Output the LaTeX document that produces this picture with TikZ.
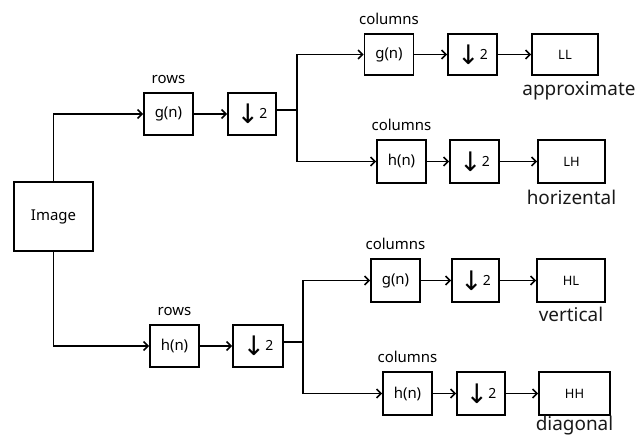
\documentclass[tikz,border=0pt]{standalone}
\usepackage{fontspec}
\setmainfont{Noto Sans}
\newfontfamily\arrowfont{DejaVu Sans}
\usetikzlibrary{positioning,arrows.meta}

% down-sampling symbol
\newcommand{\dsamp}{{\arrowfont\fontsize{27}{27}\selectfont ↓}\raisebox{5bp}{\fontsize{14}{14}\selectfont 2}}

\begin{document}
\begin{tikzpicture}[x=1bp,y=-1bp,
  font=\fontsize{15}{18}\selectfont,
  >={Straight Barb[length=4.5bp,width=9bp]},
  box/.style={draw,line width=1.6bp,inner sep=0pt,minimum width=49bp,minimum height=42bp},
  outbox/.style={box,minimum width=67bp,font=\fontsize{13}{15}\selectfont},
  conn/.style={line width=1.6bp},
  outlbl/.style={font=\fontsize{19}{22}\selectfont,text=black!90,inner sep=1bp}]
  \useasboundingbox (0,0) rectangle (640,435);

  % Input
  \node[box,minimum width=79bp,minimum height=69bp] (img) at (53.5,216.5) {Image};

  % Rows, upper branch
  \node[box] (rg) at (168.5,114) {g(n)};
  \node[box,minimum width=48bp] (rd1) at (252,114) {\dsamp};
  \node[above=5bp of rg] (rglbl) {rows};
  \coordinate (s1) at (297,110);

  % Rows, lower branch
  \node[box] (rh) at (174.5,346) {h(n)};
  \node[box,minimum width=50bp] (rd2) at (258,346) {\dsamp};
  \node[above=5bp of rh] (rhlbl) {rows};
  \coordinate (s2) at (303,342);

  % Columns, LL
  \node[box,minimum height=41bp] (cg1) at (389,54.5) {g(n)};
  \node[box,minimum height=41bp] (cd1) at (472.5,54.5) {\dsamp};
  \node[outbox,minimum height=41bp,minimum width=66bp] (ll) at (565,54.5) {LL};
  \node[above=5bp of cg1] (cg1lbl) {columns};
  \node[outlbl,below=5bp of ll.south west,anchor=north west,xshift=-10bp] (approx) {approximate};

  % Columns, LH
  \node[box,minimum height=43bp] (ch1) at (401.5,161.5) {h(n)};
  \node[box,minimum height=43bp] (cd2) at (474.5,161.5) {\dsamp};
  \node[outbox,minimum height=43bp] (lh) at (571.5,161.5) {LH};
  \node[above=5bp of ch1] (ch1lbl) {columns};
  \node[outlbl,below=5bp of lh] (horiz) {horizental};

  % Columns, HL
  \node[box,minimum height=43bp] (cg2) at (395.5,280.5) {g(n)};
  \node[box,minimum height=43bp,minimum width=47bp] (cd3) at (475.5,280.5) {\dsamp};
  \node[outbox,minimum height=43bp,minimum width=68bp] (hl) at (571,280.5) {HL};
  \node[above=5bp of cg2] (cg2lbl) {columns};
  \node[outlbl,below=3bp of hl] (vert) {vertical};

  % Columns, HH
  \node[box,minimum height=43bp] (ch2) at (407.5,393.5) {h(n)};
  \node[box,minimum height=43bp,minimum width=48bp] (cd4) at (481,393.5) {\dsamp};
  \node[outbox,minimum height=43bp,minimum width=71bp] (hh) at (574.5,393.5) {HH};
  \node[above=5bp of ch2] (ch2lbl) {columns};
  \node[outlbl,below=-1bp of hh] (diag) {diagonal};

  % Connectors
  \draw[conn,->] (img.north) |- (rg);
  \draw[conn,->] (img.south) |- (rh);
  \draw[conn,->] (rg) -- (rd1);
  \draw[conn,->] (rh) -- (rd2);
  \draw[conn] (rd1.east |- s1) -- (s1);
  \draw[conn] (rd2.east |- s2) -- (s2);
  \draw[conn,->] (s1) |- (cg1);
  \draw[conn,->] (s1) |- (ch1);
  \draw[conn,->] (s2) |- (cg2);
  \draw[conn,->] (s2) |- (ch2);
  \draw[conn,->] (cg1) -- (cd1);
  \draw[conn,->] (cd1) -- (ll);
  \draw[conn,->] (ch1) -- (cd2);
  \draw[conn,->] (cd2) -- (lh);
  \draw[conn,->] (cg2) -- (cd3);
  \draw[conn,->] (cd3) -- (hl);
  \draw[conn,->] (ch2) -- (cd4);
  \draw[conn,->] (cd4) -- (hh);
\end{tikzpicture}
\end{document}
